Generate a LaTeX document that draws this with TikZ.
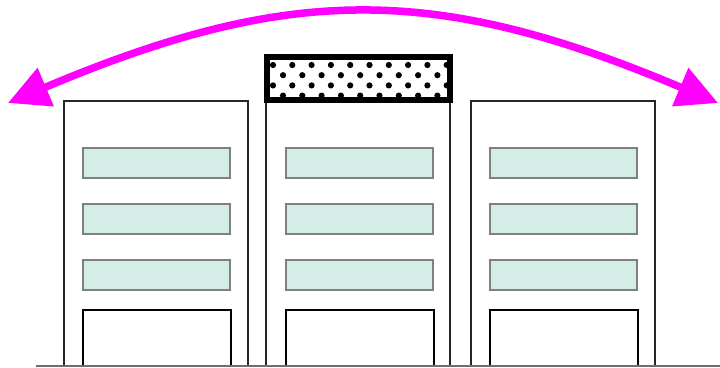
\documentclass[tikz,border=0pt]{standalone}
\usetikzlibrary{arrows.meta}
\definecolor{arcmag}{RGB}{255,0,255}
\definecolor{winfill}{RGB}{212,237,230}
\definecolor{wingray}{RGB}{128,128,128}
\definecolor{groundgray}{RGB}{110,110,110}
\tikzset{
  wall/.style={draw=black!85, line width=2.4pt},
  window/.style={draw=wingray, fill=winfill, line width=2.2pt},
  doorway/.style={draw=black, line width=2.4pt, fill=white},
  roofsign/.style={draw=black, line width=5.5pt},
  swing/.style={draw=arcmag, line width=7.5pt,
    {Triangle[length=41pt,width=40pt]}-{Triangle[length=41pt,width=40pt]}},
}
\begin{document}
\begin{tikzpicture}[x=1pt,y=-1pt]
  \useasboundingbox (0,0) rectangle (720,367);

  % three building blocks, each with three windows and a doorway
  \foreach \bx/\wx in {64/83, 266/286, 471/490}{
    \draw[wall] (\bx,367) -- (\bx,101) -- ({\bx+184},101) -- ({\bx+184},367);
    \foreach \wy in {148,204,260}{
      \draw[window] (\wx,\wy) rectangle ({\wx+147},{\wy+30});
    }
    \draw[doorway] (\wx,367) -- (\wx,310) -- ({\wx+148},310) -- ({\wx+148},367);
  }

  % dotted sign on the middle roof
  \fill[white] (267,57) rectangle (450,100);
  \begin{scope}
    \clip (267,57) rectangle (450,100);
    \foreach \r in {0,...,3}{
      \pgfmathsetmacro{\yy}{65+10.2*\r}
      \pgfmathsetmacro{\xo}{mod(\r,2)==0 ? 273 : 283}
      \foreach \k in {0,...,9}{
        \fill (\xo+19.3*\k,\yy) circle (3.1);
      }
    }
  \end{scope}
  \draw[roofsign] (267,57) rectangle (450,100);

  % ground line
  \coordinate (groundL) at (36,366);
  \coordinate (groundR) at (720,366);
  \draw[groundgray, line width=1.5pt] (groundL) -- (groundR);

  % swinging arrow over the roofs
  \coordinate (swingL) at (8,103);
  \coordinate (swingR) at (718,103);
  \draw[swing] (swingL) .. controls (290,-16) and (436,-16) .. (swingR);
\end{tikzpicture}
\end{document}
